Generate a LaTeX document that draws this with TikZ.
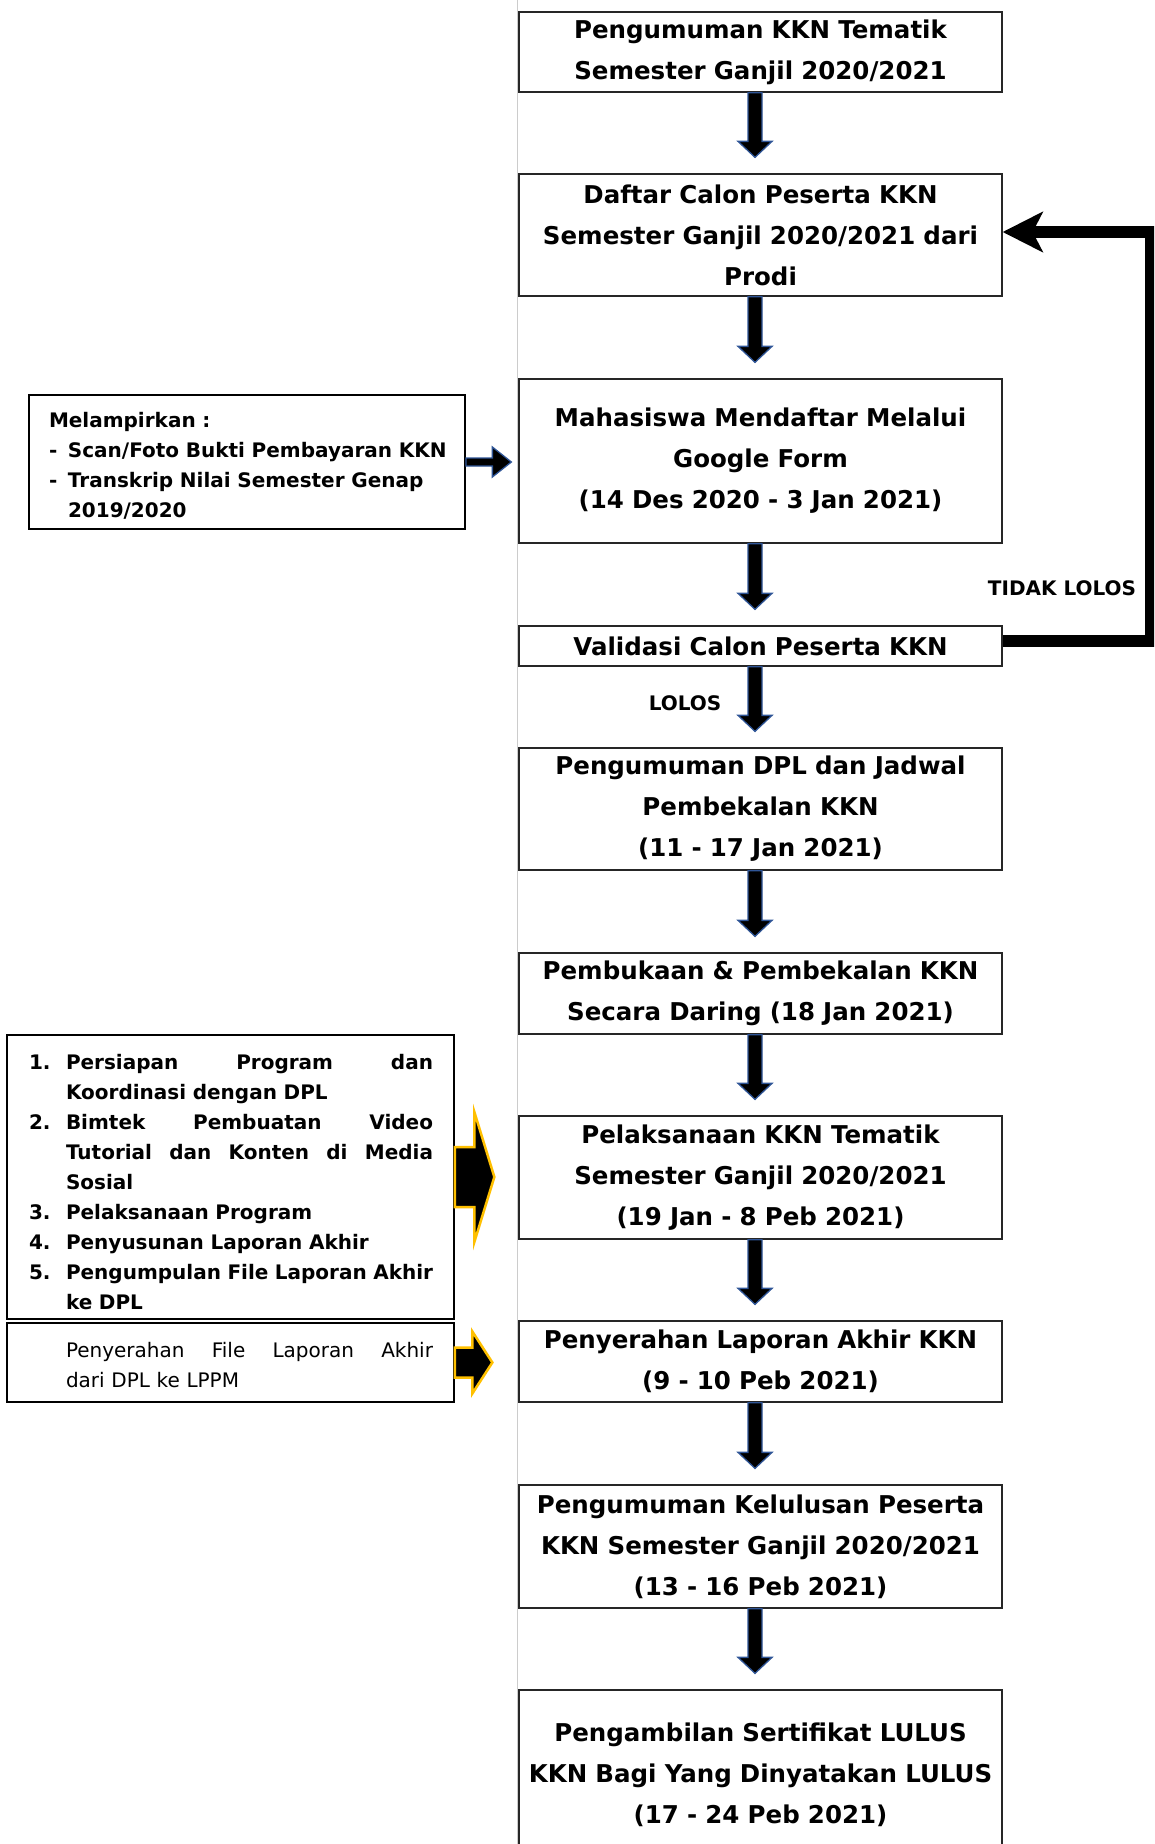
\documentclass[tikz,border=0pt]{standalone}
\usepackage{fontspec}
\setmainfont{DejaVu Sans}
\usepackage{tikz}
\usetikzlibrary{calc}
\usetikzlibrary{positioning}
\usetikzlibrary{arrows.meta}

\definecolor{arrowblue}{HTML}{2F5597}
\definecolor{arrowgold}{HTML}{FFC000}

\newcommand\boxfont{\fontsize{24.5}{41}\selectfont\bfseries}
\newcommand\sidefont{\fontsize{20}{30}\selectfont\bfseries}
% justified line of the side boxes
\newcommand\jline[1]{\makebox[367pt][s]{\spaceskip=.3em plus 1fil\relax #1}}
% block arrow pointing down, between two stacked boxes
\newcommand\downblk[2]{%
  \filldraw[blkarrow] let \p1=($(#1.south)+(-5.5,0)$), \p2=(#2.north) in
    (\x1-7pt,\y1) -- (\x1-7pt,\y2+32pt) -- (\x1-17pt,\y2+32pt) -- (\x1,\y2+16pt)
    -- (\x1+17pt,\y2+32pt) -- (\x1+7pt,\y2+32pt) -- (\x1+7pt,\y1) -- cycle;}
% block arrow pointing right: style, from, to, gap, head length, shaft half, head half
\newcommand\rightblk[7]{%
  \filldraw[#1] let \p1=(#2.east), \p2=(#3.west) in
    (\x1,\y1+#6) -- (\x2-#4-#5,\y1+#6) -- (\x2-#4-#5,\y1+#7) -- (\x2-#4,\y1)
    -- (\x2-#4-#5,\y1-#7) -- (\x2-#4-#5,\y1-#6) -- (\x1,\y1-#6) -- cycle;}

\begin{document}
\begin{tikzpicture}[x=1pt,y=-1pt,
    mainbox/.style={draw=black!85,line width=1.3pt,minimum width=483pt,text width=475pt,
      inner sep=0pt,align=center,font=\boxfont},
    sidebox/.style={draw=black,line width=1.8pt,text width=#1,inner sep=0pt,align=left},
    blkarrow/.style={fill=black,draw=arrowblue,line width=1.3pt},
    goldarrow/.style={fill=black,draw=arrowgold,line width=2.5pt},
    bluearrow/.style={fill=black,draw=arrowblue,line width=1.3pt},
    flowlabel/.style={font=\fontsize{20}{25}\selectfont\bfseries}]
  \clip (0,0) rectangle (1154,1844);
  \fill[white] (0,0) rectangle (1154,1844);
  \draw[gray!40,line width=1pt] (517,0) -- (517,1844);

  % main flow
  \node[mainbox,minimum height=80pt] (b1) at (760.5,52) {Pengumuman KKN Tematik\\Semester Ganjil 2020/2021};
  \node[mainbox,minimum height=122pt] (b2) at (760.5,235) {Daftar Calon Peserta KKN\\Semester Ganjil 2020/2021 dari\\Prodi};
  \node[mainbox,minimum height=164pt] (b3) at (760.5,461) {Mahasiswa Mendaftar Melalui\\Google Form\\(14 Des 2020 - 3 Jan 2021)};
  \node[mainbox,minimum height=40pt] (b4) at (760.5,646) {Validasi Calon Peserta KKN};
  \node[mainbox,minimum height=122pt] (b5) at (760.5,809) {Pengumuman DPL dan Jadwal\\Pembekalan KKN\\(11 - 17 Jan 2021)};
  \node[mainbox,minimum height=81pt] (b6) at (760.5,993.5) {Pembukaan \& Pembekalan KKN\\Secara Daring (18 Jan 2021)};
  \node[mainbox,minimum height=123pt] (b7) at (760.5,1177.5) {Pelaksanaan KKN Tematik\\Semester Ganjil 2020/2021\\(19 Jan - 8 Peb 2021)};
  \node[mainbox,minimum height=81pt] (b8) at (760.5,1361.5) {Penyerahan Laporan Akhir KKN\\(9 - 10 Peb 2021)};
  \node[mainbox,minimum height=123pt] (b9) at (760.5,1546.5) {Pengumuman Kelulusan Peserta\\KKN Semester Ganjil 2020/2021\\(13 - 16 Peb 2021)};
  \node[mainbox,minimum height=169pt] (b10) at (760.5,1774.5) {Pengambilan Sertifikat LULUS\\KKN Bagi Yang Dinyatakan LULUS\\(17 - 24 Peb 2021)};

  \foreach \a/\b in {b1/b2,b2/b3,b3/b4,b4/b5,b5/b6,b6/b7,b7/b8,b8/b9,b9/b10}
    {\downblk{\a}{\b}}

  % feedback loop
  \draw[line width=12pt,-{Stealth[length=40pt,width=40pt,inset=10pt]}]
    ([yshift=5pt]b4.east) -- ++(148,0) |- ([yshift=3pt]b2.east);
  \node[flowlabel] (tl) at (1062,588) {TIDAK LOLOS};
  \node[flowlabel] (ll) at (685,703) {LOLOS};

  % side boxes
  \node[sidebox=436pt,minimum height=134pt,font=\sidefont] (att) at (247,462) {%
    \rule{0pt}{22pt}\hspace*{20pt}Melampirkan :\\
    \hspace*{20pt}\makebox[19pt][l]{-}Scan/Foto Bukti Pembayaran KKN\\
    \hspace*{20pt}\makebox[19pt][l]{-}Transkrip Nilai Semester Genap\\
    \hspace*{39pt}2019/2020};
  \node[sidebox=447pt,minimum height=284pt,font=\sidefont] (lst) at (230.5,1177) {%
    \rule{0pt}{25pt}\hspace*{22pt}\makebox[37pt][l]{1.}\jline{Persiapan Program dan}\\
    \hspace*{59pt}Koordinasi dengan DPL\\
    \hspace*{22pt}\makebox[37pt][l]{2.}\jline{Bimtek Pembuatan Video}\\
    \hspace*{59pt}\jline{Tutorial dan Konten di Media}\\
    \hspace*{59pt}Sosial\\
    \hspace*{22pt}\makebox[37pt][l]{3.}Pelaksanaan Program\\
    \hspace*{22pt}\makebox[37pt][l]{4.}Penyusunan Laporan Akhir\\
    \hspace*{22pt}\makebox[37pt][l]{5.}\jline{Pengumpulan File Laporan Akhir}\\
    \hspace*{59pt}ke DPL};
  \node[sidebox=447pt,minimum height=79pt,font=\fontsize{20}{30}\selectfont] (lpp) at (230.5,1362.5) {%
    \rule{0pt}{20pt}\hspace*{59pt}\jline{Penyerahan File Laporan Akhir}\\
    \hspace*{59pt}dari DPL ke LPPM};

  \rightblk{bluearrow}{att}{b3}{7pt}{19pt}{4pt}{15pt}
  \rightblk{goldarrow}{lst}{b7}{24pt}{20pt}{30pt}{65pt}
  \rightblk{goldarrow}{lpp}{b8}{26pt}{20pt}{15pt}{31pt}
\end{tikzpicture}
\end{document}
